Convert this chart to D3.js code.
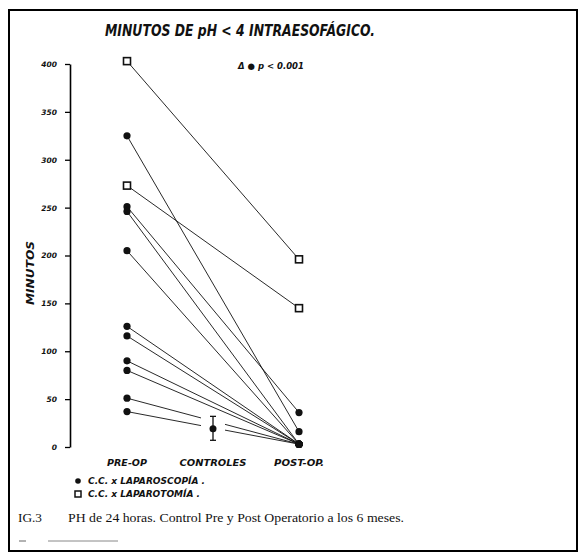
<!DOCTYPE html>
<html>
<head>
<meta charset="utf-8">
<script src="https://cdn.jsdelivr.net/npm/d3@7"></script>
<style>
  body { margin: 0; background: #fff; }
  text { fill: #111; }
  .hand { font-family: "DejaVu Sans", sans-serif; font-weight: bold; font-style: italic; }
  .serif { font-family: "Liberation Serif", serif; }
</style>
</head>
<body>
<div id="chart"></div>
<script>
// categories on the x axis
var categories = ["PRE-OP", "CONTROLES", "POST-OP."];
var catWidths = [40, 67, 50];

// C.C. x laparoscopia (filled circles), pre / post pairs
var laparoscopiaPre  = [325, 251, 246, 205, 126, 116, 90, 80, 51, 37];
var laparoscopiaPost = [16, 36, 3, 3, 3, 3, 3, 3, 3, 3];

// C.C. x laparotomia (open squares)
var laparotomiaPre  = [403, 273];
var laparotomiaPost = [196, 145];

// controles: mean and range
var controlMean = 19;
var controlLow  = 7;
var controlHigh = 32;

var yTicks = [0, 50, 100, 150, 200, 250, 300, 350, 400];

var width = 584, height = 560;

var svg = d3.select("#chart")
  .append("svg")
  .attr("width", width)
  .attr("height", height);

// page frame
svg.append("rect")
  .attr("x", 9).attr("y", 10)
  .attr("width", 568).attr("height", 541)
  .attr("fill", "none")
  .attr("stroke", "#000")
  .attr("stroke-width", 2);

// scales
var x = d3.scalePoint().domain(categories).range([127, 299]);
var y = d3.scaleLinear().domain([0, 400]).range([447, 64]);

// y axis
var yAxis = svg.append("g")
  .attr("transform", "translate(70,0)")
  .call(d3.axisLeft(y).tickValues(yTicks).tickSize(5).tickSizeOuter(0).tickPadding(8));
yAxis.select(".domain").attr("stroke-width", 1.6);
yAxis.selectAll(".tick line").attr("stroke-width", 1.3);
yAxis.selectAll(".tick text")
  .attr("class", "hand")
  .style("font-size", "7.5px");

svg.append("text")
  .attr("class", "hand")
  .attr("transform", "translate(34,273) rotate(-90)")
  .attr("text-anchor", "middle")
  .attr("textLength", 64)
  .attr("lengthAdjust", "spacingAndGlyphs")
  .style("font-size", "10px")
  .text("MINUTOS");

// title
svg.append("text")
  .attr("class", "hand")
  .attr("x", 105).attr("y", 36)
  .attr("textLength", 270)
  .attr("lengthAdjust", "spacingAndGlyphs")
  .style("font-size", "15px")
  .text("MINUTOS DE  pH < 4  INTRAESOFÁGICO.");

svg.append("text")
  .attr("class", "hand")
  .attr("x", 238).attr("y", 69)
  .style("font-size", "8.5px")
  .text("\u0394 \u25CF  p < 0.001");

// category labels
svg.selectAll(".cat")
  .data(categories)
  .enter().append("text")
  .attr("class", "hand")
  .attr("x", function(d, i) { return x(d) - catWidths[i] / 2 + (i == 2 ? 0 : 0); })
  .attr("y", 466)
  .attr("textLength", function(d, i) { return catWidths[i]; })
  .attr("lengthAdjust", "spacingAndGlyphs")
  .style("font-size", "8px")
  .text(function(d) { return d; });

// connecting lines
var lineGroup = svg.append("g")
  .attr("stroke", "#111")
  .attr("stroke-width", 0.9);

laparotomiaPre.forEach(function(v, i) {
  lineGroup.append("line")
    .attr("x1", x("PRE-OP")).attr("y1", y(v))
    .attr("x2", x("POST-OP.")).attr("y2", y(laparotomiaPost[i]));
});
laparoscopiaPre.forEach(function(v, i) {
  lineGroup.append("line")
    .attr("x1", x("PRE-OP")).attr("y1", y(v))
    .attr("x2", x("POST-OP.")).attr("y2", y(laparoscopiaPost[i]));
});

// gap in the low lines around the controls marker
svg.append("rect")
  .attr("x", x("CONTROLES") - 12)
  .attr("y", y(controlHigh) - 2)
  .attr("width", 24)
  .attr("height", y(controlLow) - y(controlHigh) + 4)
  .attr("fill", "#fff");

// controls: mean with range bar
var cx = x("CONTROLES");
svg.append("line")
  .attr("x1", cx).attr("x2", cx)
  .attr("y1", y(controlHigh)).attr("y2", y(controlLow))
  .attr("stroke", "#111").attr("stroke-width", 1.3);
[controlHigh, controlLow].forEach(function(v) {
  svg.append("line")
    .attr("x1", cx - 3).attr("x2", cx + 3)
    .attr("y1", y(v)).attr("y2", y(v))
    .attr("stroke", "#111").attr("stroke-width", 1.3);
});
svg.append("circle")
  .attr("cx", cx).attr("cy", y(controlMean)).attr("r", 3.5)
  .attr("fill", "#111");

// filled circles
var circ = laparoscopiaPre.map(function(v) { return ["PRE-OP", v]; })
  .concat(laparoscopiaPost.map(function(v) { return ["POST-OP.", v]; }));
svg.selectAll(".dot")
  .data(circ)
  .enter().append("circle")
  .attr("cx", function(d) { return x(d[0]); })
  .attr("cy", function(d) { return y(d[1]); })
  .attr("r", 3.6)
  .attr("fill", "#111");

// open squares
var sq = laparotomiaPre.map(function(v) { return ["PRE-OP", v]; })
  .concat(laparotomiaPost.map(function(v) { return ["POST-OP.", v]; }));
svg.selectAll(".sq")
  .data(sq)
  .enter().append("rect")
  .attr("x", function(d) { return x(d[0]) - 3.5; })
  .attr("y", function(d) { return y(d[1]) - 3.5; })
  .attr("width", 7).attr("height", 7)
  .attr("fill", "#fff")
  .attr("stroke", "#111")
  .attr("stroke-width", 1.6);

// legend
svg.append("circle").attr("cx", 78).attr("cy", 481).attr("r", 2.8).attr("fill", "#111");
svg.append("text").attr("class", "hand")
  .attr("x", 88).attr("y", 484)
  .attr("textLength", 117)
  .attr("lengthAdjust", "spacingAndGlyphs")
  .style("font-size", "8px")
  .text("C.C.  x  LAPAROSCOPÍA .");
svg.append("rect").attr("x", 75).attr("y", 491).attr("width", 6).attr("height", 6)
  .attr("fill", "#fff").attr("stroke", "#111").attr("stroke-width", 1.5);
svg.append("text").attr("class", "hand")
  .attr("x", 88).attr("y", 497)
  .attr("textLength", 112)
  .attr("lengthAdjust", "spacingAndGlyphs")
  .style("font-size", "8px")
  .text("C.C.  x  LAPAROTOMÍA .");

// caption
svg.append("text").attr("class", "serif")
  .attr("x", 18).attr("y", 522)
  .attr("textLength", 24)
  .attr("lengthAdjust", "spacingAndGlyphs")
  .style("font-size", "12px")
  .text("IG.3");
svg.append("text").attr("class", "serif")
  .attr("x", 68).attr("y", 522)
  .attr("textLength", 336)
  .attr("lengthAdjust", "spacingAndGlyphs")
  .style("font-size", "12px")
  .text("PH de 24 horas. Control Pre y Post Operatorio a los 6 meses.");

svg.append("line")
  .attr("x1", 19).attr("x2", 26).attr("y1", 541).attr("y2", 541)
  .attr("stroke", "#666").attr("stroke-width", 1);
svg.append("line")
  .attr("x1", 48).attr("x2", 118).attr("y1", 541).attr("y2", 541)
  .attr("stroke", "#888").attr("stroke-width", 1);
</script>
</body>
</html>
